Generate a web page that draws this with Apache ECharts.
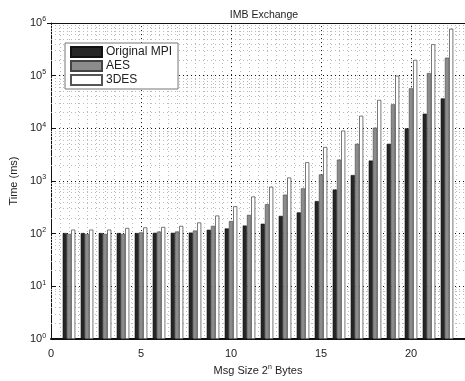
<!DOCTYPE html>
<html>
<head>
<meta charset="utf-8">
<script src="https://cdn.jsdelivr.net/npm/echarts@6/dist/echarts.min.js"></script>
<style>
html,body{margin:0;padding:0;background:#fff;overflow:hidden;}
#chart{width:465px;height:381px;}
</style>
</head>
<body>
<div id="chart"></div>
<script>
// Message size exponent n (2^n bytes)
const msgExp = [1,2,3,4,5,6,7,8,9,10,11,12,13,14,15,16,17,18,19,20,21,22];
// Exchange time (ms) per configuration
const originalMpi = [103,103,103,103,103,104,104,105,119,126,143,155,218,254,417,690,1300,2450,5100,10000,19000,37000];
const aes = [99,99,99,99,106,110,110,115,141,174,228,363,552,725,1333,2550,5100,10300,28600,57500,112000,220000];
const des3 = [120,120,120,129,132,135,141,164,222,333,510,780,1170,2280,4440,9100,17400,34800,100000,200000,396000,780000];
const seriesNames = ['Original MPI', 'AES', '3DES'];
const yTicks = [1,10,100,1000,10000,100000,1000000];

// minor log gridlines: 2..9 within each decade
const minorLogLines = [];
for (let k = 0; k < 6; k++) {
  for (let m = 2; m <= 9; m++) minorLogLines.push({ yAxis: m * Math.pow(10, k) });
}
const majorLogLines = yTicks.slice(1, -1).map(v => ({ yAxis: v }));
const majorXLines = [5, 10, 15, 20].map(v => ({ xAxis: v }));

const chart = echarts.init(document.getElementById('chart'), null, { renderer: 'canvas' });
const font = 'Liberation Sans';

function toPairs(arr) { return msgExp.map((n, i) => [n, arr[i]]); }

const barW = 4.2;
const option = {
  animation: false,
  title: {
    text: 'IMB Exchange',
    left: 259, top: 5, textAlign: 'center',
    textStyle: { fontFamily: font, fontSize: 10.5, fontWeight: 'normal', color: '#222' }
  },
  legend: {
    orient: 'vertical', left: 65, top: 43,
    itemWidth: 31, itemHeight: 10, itemGap: 2,
    padding: [3, 6, 3, 5],
    backgroundColor: '#fff', borderColor: '#777', borderWidth: 1,
    textStyle: { fontFamily: font, fontSize: 12, color: '#222', padding: [0, 0, 0, -1] },
    data: seriesNames.map(n => ({ name: n, icon: 'rect' })),
    z: 20
  },
  grid: { left: 47, top: 23, width: 426, height: 327, containLabel: false },
  xAxis: {
    type: 'value', min: 0, max: 23, interval: 5,
    axisLine: { show: true, onZero: false, lineStyle: { color: '#111', width: 2 } },
    axisTick: { show: true, inside: true, length: 4, lineStyle: { color: '#111' } },
    axisLabel: { fontFamily: font, fontSize: 11, color: '#222', margin: 9, showMaxLabel: false },
    splitLine: { show: false },
    minorTick: { show: false, splitNumber: 10 },
    minorSplitLine: { show: true, lineStyle: { color: '#bbb', type: [1, 3], width: 1 } },
    name: '{a|Msg Size 2}{s|n}{a| Bytes}',
    nameLocation: 'middle', nameGap: 24,
    nameTextStyle: {
      rich: {
        a: { fontFamily: font, fontSize: 11, color: '#222' },
        s: { fontFamily: font, fontSize: 7, color: '#222', verticalAlign: 'top', padding: [0, 0, 6, 0] }
      }
    }
  },
  yAxis: {
    type: 'log', logBase: 10, min: 1, max: 1000000,
    axisLine: { show: true, lineStyle: { color: '#111', width: 1 } },
    axisTick: { show: true, inside: true, length: 4, lineStyle: { color: '#111' } },
    axisLabel: {
      margin: 5,
      formatter: v => '{b|10}{e|' + Math.round(Math.log10(v)) + '}',
      rich: {
        b: { fontFamily: font, fontSize: 11, color: '#222' },
        e: { fontFamily: font, fontSize: 7, color: '#222', verticalAlign: 'top', padding: [0, 0, 7, 0] }
      }
    },
    splitLine: { show: false },
    name: 'Time (ms)', nameLocation: 'middle', nameGap: 24,
    nameTextStyle: { fontFamily: font, fontSize: 11, color: '#222' }
  },
  series: [
    {
      name: seriesNames[0], type: 'bar', data: toPairs(originalMpi),
      barWidth: barW, barGap: '0%',
      itemStyle: { color: '#262626', borderColor: '#111', borderWidth: 0.6 },
      markLine: {
        silent: true, symbol: 'none', label: { show: false }, z: 1,
        lineStyle: { color: '#bbb', type: [1, 3], width: 1 },
        data: minorLogLines
      }
    },
    {
      name: seriesNames[1], type: 'bar', data: toPairs(aes),
      barWidth: barW, barGap: '0%',
      itemStyle: { color: '#8c8c8c', borderColor: '#444', borderWidth: 0.6 },
      markLine: {
        silent: true, symbol: 'none', label: { show: false }, z: 1,
        lineStyle: { color: '#111', type: [1, 3], width: 1 },
        data: majorLogLines.concat(majorXLines)
      }
    },
    {
      name: seriesNames[2], type: 'bar', data: toPairs(des3),
      barWidth: barW, barGap: '0%',
      itemStyle: { color: '#ffffff', borderColor: '#555', borderWidth: 0.8 }
    }
  ],
  graphic: [
    { type: 'line', shape: { x1: 47, y1: 23.5, x2: 465, y2: 23.5 }, style: { stroke: '#111', lineWidth: 1 }, z: 10 }
  ]
};
chart.setOption(option);
</script>
</body>
</html>
